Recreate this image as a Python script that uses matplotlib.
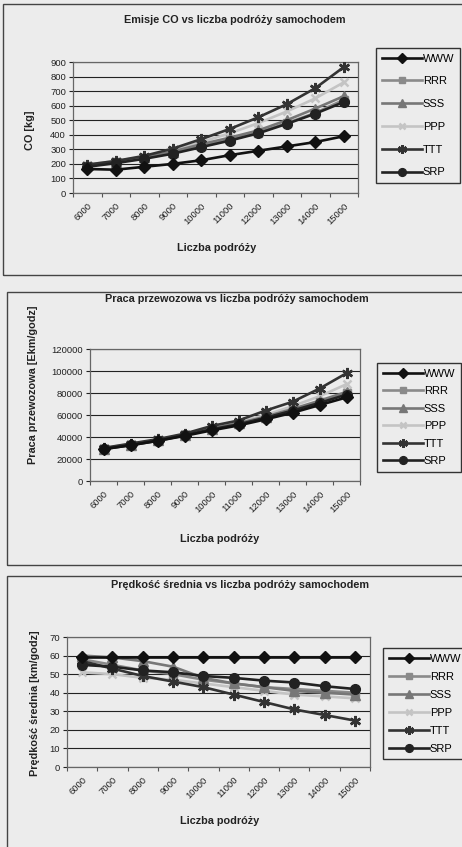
import matplotlib.pyplot as plt
from matplotlib.patches import Rectangle

# categories (number of car trips)
categories = [6000, 7000, 8000, 9000, 10000, 11000, 12000, 13000, 14000, 15000]
tick_labels = [str(c) for c in categories]
series_names = ['WWW', 'RRR', 'SSS', 'PPP', 'TTT', 'SRP']

# CO emission [kg]
co_www = [165, 160, 180, 200, 225, 260, 290, 320, 350, 390]
co_rrr = [185, 210, 240, 275, 320, 365, 415, 480, 550, 640]
co_sss = [190, 215, 245, 285, 335, 380, 430, 500, 580, 665]
co_ppp = [195, 220, 250, 295, 350, 410, 480, 560, 650, 760]
co_ttt = [195, 220, 255, 305, 370, 440, 520, 610, 720, 865]
co_srp = [180, 205, 235, 270, 315, 360, 410, 475, 545, 625]

# transport work [Ekm/godz]
pw_www = [29000, 32500, 36500, 41000, 46000, 50500, 56000, 62000, 69000, 76000]
pw_rrr = [29500, 33000, 37000, 42000, 47500, 52000, 58000, 64500, 72000, 80000]
pw_sss = [29500, 33000, 37500, 42000, 47500, 52500, 58500, 65500, 73000, 81000]
pw_ppp = [30000, 33500, 37500, 42500, 48500, 53500, 60000, 68000, 77000, 88000]
pw_ttt = [30000, 34000, 38000, 43000, 50000, 55000, 64000, 72000, 84000, 98000]
pw_srp = [29000, 32500, 36500, 41500, 47000, 51500, 57500, 64000, 71000, 78500]

# average speed [km/godz]
v_www = [59, 59, 59, 59, 59, 59, 59, 59, 59, 59]
v_rrr = [58, 55, 52, 50, 47, 45, 43, 42, 41, 40]
v_sss = [60, 59, 57, 54, 48, 45, 43, 41, 40, 39]
v_ppp = [51, 50, 48, 47, 45, 43, 41, 39, 38, 37]
v_ttt = [57, 53, 49, 46, 43, 39, 35, 31, 28, 25]
v_srp = [55, 54, 52, 51, 49, 48, 46.5, 45.5, 43.5, 42]

bg = '#ececec'
styles = {
    'WWW': dict(color='#111111', marker='D', ms=6, zorder=6),
    'RRR': dict(color='#8a8a8a', marker='s', ms=6, zorder=3),
    'SSS': dict(color='#777777', marker='^', ms=6.5, zorder=3),
    'PPP': dict(color='#c4c4c4', marker='x', ms=6, mew=1.8, zorder=2),
    'TTT': dict(color='#333333', marker=(6, 2, 0), ms=8, mew=1.8, zorder=4),
    'SRP': dict(color='#222222', marker='o', ms=7, zorder=5),
}

plt.rcParams['font.family'] = ['Liberation Sans', 'DejaVu Sans']

fig = plt.figure(figsize=(4.62, 8.47), dpi=100, facecolor=bg)

panels = [
    dict(data=[co_www, co_rrr, co_sss, co_ppp, co_ttt, co_srp],
         rect=[73/462, 1-193/847, 285/462, 131/847], ylim=(0, 900), step=100,
         title='Emisje CO vs liczba podróży samochodem', ty=20, tx=235,
         ylabel='CO [kg]', yx=30, yy=130, xly=248, xlx=217,
         leg=(376/462, 1-48/847), lsp=1.15,
         frame=(3, 4, 275)),
    dict(data=[pw_www, pw_rrr, pw_sss, pw_ppp, pw_ttt, pw_srp],
         rect=[90/462, 1-481/847, 270/462, 132/847], ylim=(0, 120000), step=20000,
         title='Praca przewozowa vs liczba podróży samochodem', ty=299, tx=237,
         ylabel='Praca przewozowa [Ekm/godz]', yx=33, yy=385, xly=539, xlx=220,
         leg=(377/462, 1-363/847), lsp=0.68,
         frame=(7, 292, 565)),
    dict(data=[v_www, v_rrr, v_sss, v_ppp, v_ttt, v_srp],
         rect=[67/462, 1-767/847, 303/462, 130/847], ylim=(0, 70), step=10,
         title='Prędkość średnia vs liczba podróży samochodem', ty=585, tx=240,
         ylabel='Prędkość średnia [km/godz]', yx=35, yy=703, xly=821, xlx=220,
         leg=(383/462, 1-648/847), lsp=0.72,
         frame=(7, 576, 860)),
]

x = list(range(len(categories)))

for p in panels:
    # outer chart frame
    fx, ftop, fbot = p['frame']
    fig.patches.append(Rectangle((fx/462, 1-fbot/847), 1.2, (fbot-ftop)/847,
                                 transform=fig.transFigure, fill=False,
                                 edgecolor='#444444', lw=1.0))
    ax = fig.add_axes(p['rect'], facecolor=bg)
    for name, vals in zip(series_names, p['data']):
        ax.plot(x, vals, lw=1.9, label=name, **styles[name])

    ax.set_xlim(-0.5, len(categories) - 0.5)
    ax.set_ylim(*p['ylim'])
    ax.set_yticks(range(p['ylim'][0], p['ylim'][1] + 1, p['step']))
    ax.yaxis.grid(True, color='#222222', lw=0.8)
    ax.set_axisbelow(True)
    ax.tick_params(axis='y', labelsize=6.8, length=3, width=0.8, pad=2, colors='#222222')
    ax.set_xticks(x)
    ax.set_xticklabels(tick_labels, rotation=45, ha='right', rotation_mode='anchor',
                       fontsize=6.8, color='#222222')
    ax.tick_params(axis='x', length=0, pad=6)
    ax.set_xticks([i - 0.5 for i in range(len(categories) + 1)], minor=True)
    ax.tick_params(axis='x', which='minor', length=3, width=0.8, colors='#555555')
    for s in ax.spines.values():
        s.set_color('#666666')
        s.set_linewidth(0.9)

    fig.text(p['tx']/462, 1-p['ty']/847, p['title'], ha='center', va='center',
             fontsize=7.8, fontweight='bold', color='#222222')
    fig.text(p['xlx']/462, 1-p['xly']/847, 'Liczba podróży', ha='center', va='center',
             fontsize=7.8, fontweight='bold', color='#222222')
    fig.text(p['yx']/462, 1-p['yy']/847, p['ylabel'], ha='center', va='center',
             rotation=90, fontsize=7.8, fontweight='bold', color='#222222')

    leg = ax.legend(loc='upper left', bbox_to_anchor=p['leg'], bbox_transform=fig.transFigure,
                    fontsize=8, frameon=True, fancybox=False, edgecolor='#333333',
                    facecolor=bg, framealpha=1, handlelength=3.6, handletextpad=0.1,
                    labelspacing=p['lsp'], borderpad=0.5, borderaxespad=0, markerscale=0.8)
    leg.get_frame().set_linewidth(1.0)

fig.savefig('out.png', dpi=100, facecolor=bg)
